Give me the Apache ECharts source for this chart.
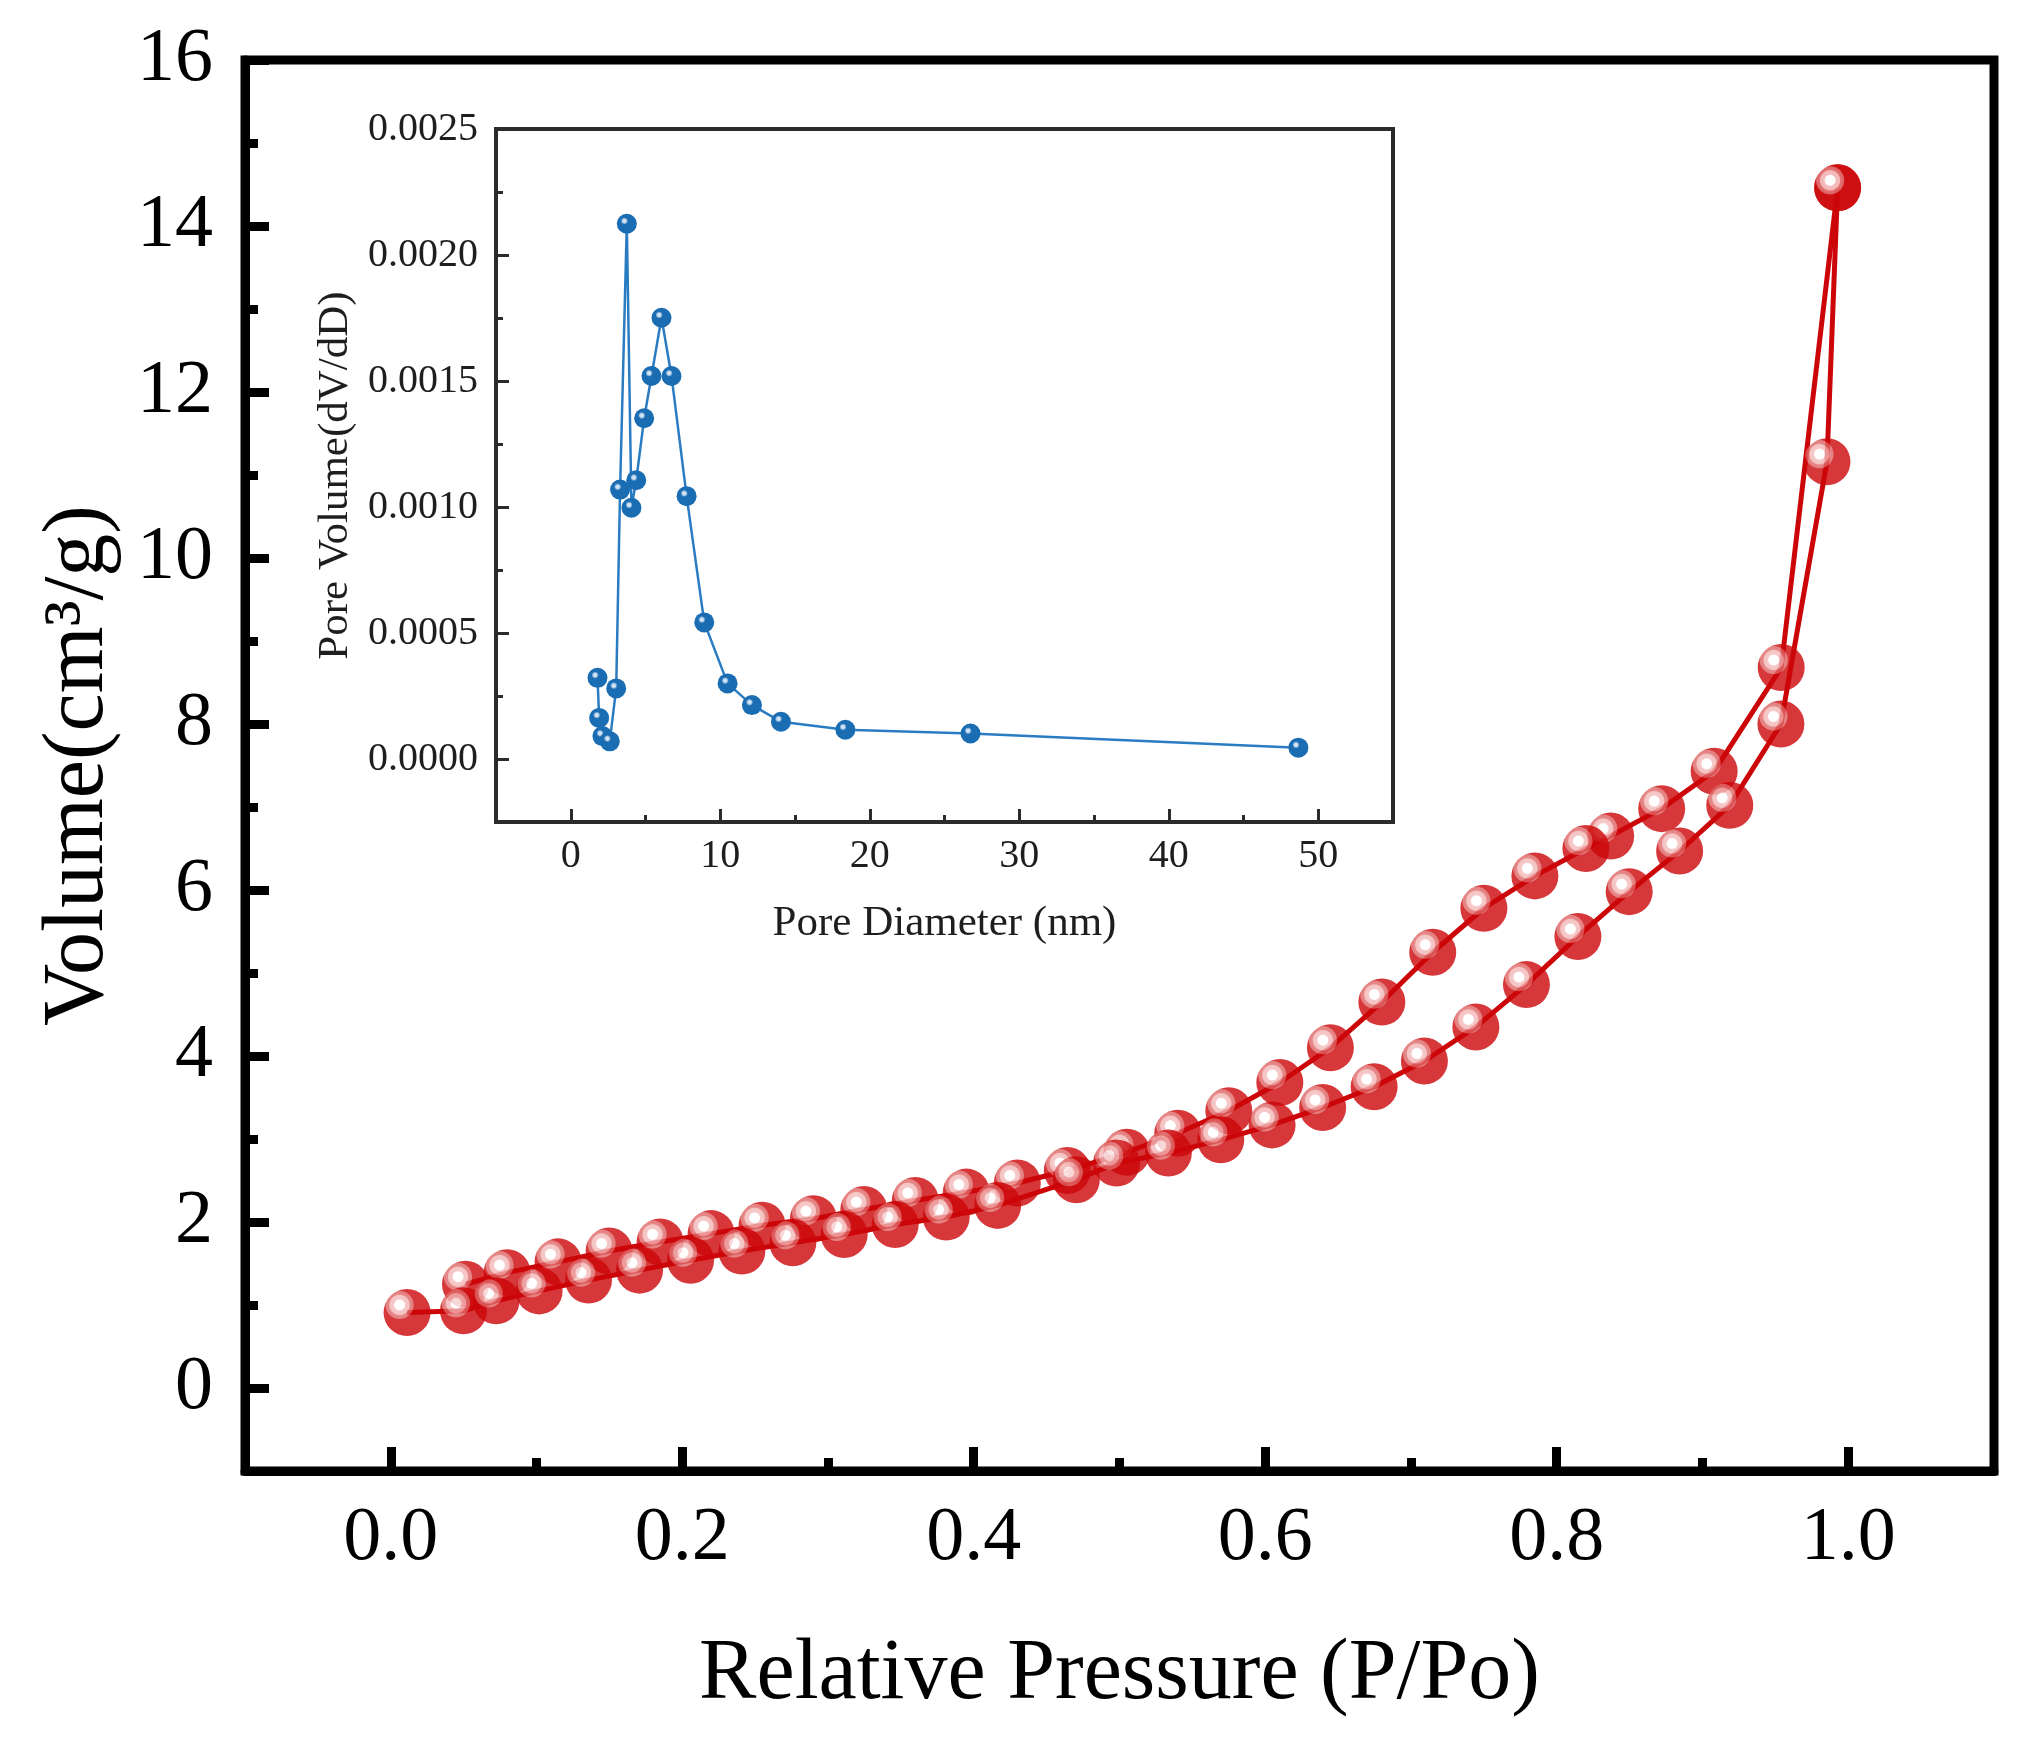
<!DOCTYPE html>
<html>
<head>
<meta charset="utf-8">
<title>BET isotherm</title>
<script src="https://cdn.jsdelivr.net/npm/echarts@6/dist/echarts.min.js"></script>
<style>
  html, body { margin: 0; padding: 0; background: #fff; }
  #main { width: 2021px; height: 1746px; }
</style>
</head>
<body>
<div id="main"></div>
<script>
// adsorption branch (low -> high pressure)
var pressureAds = [0.0112, 0.0499, 0.0723, 0.1018, 0.1357, 0.1707, 0.2057, 0.2409, 0.2759, 0.3111,
                   0.3461, 0.3811, 0.4164, 0.4704, 0.498, 0.5335, 0.5695, 0.6047, 0.6394, 0.6747,
                   0.7092, 0.7445, 0.7792, 0.8145, 0.8497, 0.8843, 0.9187, 0.9538, 0.9854, 0.9927];
var volumeAds = [0.91, 0.93, 1.05, 1.17, 1.30, 1.42, 1.54, 1.65, 1.75, 1.85,
                 1.97, 2.06, 2.20, 2.51, 2.71, 2.83, 2.99, 3.17, 3.38, 3.63,
                 3.94, 4.35, 4.86, 5.44, 5.98, 6.47, 7.02, 8.00, 11.16, 14.46];

// desorption branch (high -> low pressure)
var pressureDes = [0.9927, 0.954, 0.908, 0.872, 0.837, 0.820, 0.785, 0.750, 0.7149, 0.680,
                   0.6447, 0.610, 0.575, 0.540, 0.505, 0.4642, 0.4299, 0.3949, 0.3599, 0.3246,
                   0.290, 0.2548, 0.2198, 0.1848, 0.1498, 0.1148, 0.0798, 0.0513];
var volumeDes = [14.46, 8.68, 7.43, 6.98, 6.65, 6.50, 6.17, 5.78, 5.25, 4.65,
                 4.10, 3.68, 3.34, 3.07, 2.84, 2.62, 2.47, 2.36, 2.26, 2.15,
                 2.04, 1.96, 1.86, 1.76, 1.65, 1.52, 1.39, 1.25];

// inset: pore size distribution
var poreDiameter = [1.79, 1.90, 2.12, 2.61, 3.04, 3.30, 3.75, 4.06, 4.38, 4.91, 5.40,
                    6.07, 6.74, 7.75, 8.93, 10.49, 12.12, 14.06, 18.37, 26.74, 48.67];
var poreVolume = [0.000322, 0.000163, 0.000091, 0.000070, 0.000280, 0.001069, 0.002124,
                  0.000997, 0.001106, 0.001352, 0.001520, 0.001751, 0.001520, 0.001043,
                  0.000542, 0.000300, 0.000214, 0.000148, 0.000116, 0.000101, 0.000045];

// tick positions
var xMajor = [0, 0.2, 0.4, 0.6, 0.8, 1.0];
var xMinor = [0.1, 0.3, 0.5, 0.7, 0.9];
var yMajor = [0, 2, 4, 6, 8, 10, 12, 14, 16];
var yMinor = [1, 3, 5, 7, 9, 11, 13, 15];
var inXMajor = [0, 10, 20, 30, 40, 50];
var inXMinor = [5, 15, 25, 35, 45];
var inYMajor = [0, 0.0005, 0.001, 0.0015, 0.002, 0.0025];
var inYMinor = [0.00025, 0.00075, 0.00125, 0.00175, 0.00225];

(function () {
    var myChart = echarts.init(document.getElementById('main'), null, {renderer: 'canvas'});
    var font = "'Liberation Serif', 'Times New Roman', serif";
    var red = '#cc0508';
    var blue = '#1b6db3';

    function zip(xs, ys) {
        var out = [];
        for (var i = 0; i < xs.length; i++) out.push([xs[i], ys[i]]);
        return out;
    }

    // shiny ball: white spot, pink rings, red body
    var redBall = {
        type: 'radial', x: 0.34, y: 0.34, r: 0.5,
        colorStops: [
            {offset: 0, color: '#ffffff'},
            {offset: 0.21, color: '#ffffff'},
            {offset: 0.25, color: '#f4bcbc'},
            {offset: 0.41, color: '#f2b4b4'},
            {offset: 0.45, color: '#e26c6c'},
            {offset: 0.58, color: '#dc5e5e'},
            {offset: 0.62, color: red},
            {offset: 1, color: red}
        ]
    };
    var blueBall = {
        type: 'radial', x: 0.38, y: 0.36, r: 0.5,
        colorStops: [
            {offset: 0, color: '#e8f1fa'},
            {offset: 0.2, color: '#b9d3ec'},
            {offset: 0.36, color: blue},
            {offset: 1, color: blue}
        ]
    };

    function axisPair(grid, dir, min, max, major, minor, fmt, name, gap, st) {
        var pos = dir === 'x' ? 'bottom' : 'left';
        return [{
            type: 'value', gridIndex: grid, min: min, max: max, position: pos,
            name: name, nameLocation: 'middle', nameGap: gap,
            nameTextStyle: {fontFamily: font, fontSize: st.nameSize, color: st.textColor},
            axisLine: {show: true, onZero: false, lineStyle: {color: st.lineColor, width: st.lineWidth}},
            axisTick: {show: true, inside: true, length: st.major, customValues: major,
                       lineStyle: {color: st.lineColor, width: st.tickWidth}},
            axisLabel: {show: true, customValues: major, formatter: fmt,
                        margin: dir === 'x' ? st.marginX : st.marginY,
                        fontFamily: font, fontSize: st.labelSize, color: st.textColor},
            splitLine: {show: false}
        }, {
            type: 'value', gridIndex: grid, min: min, max: max, position: pos,
            axisLine: {show: false, onZero: false},
            axisTick: {show: true, inside: true, length: st.minor, customValues: minor,
                       lineStyle: {color: st.lineColor, width: st.tickWidth}},
            axisLabel: {show: false},
            splitLine: {show: false}
        }];
    }

    var mainStyle = {nameSize: 86, labelSize: 76, textColor: '#000', lineColor: '#000',
                     lineWidth: 9, tickWidth: 9, major: 24, minor: 13, marginX: 30, marginY: 32};
    var insetStyle = {nameSize: 43, labelSize: 40, textColor: '#1e1e1e', lineColor: '#2b2b2b',
                      lineWidth: 4, tickWidth: 3, major: 13, minor: 7, marginX: 14, marginY: 18};

    var xAxes = axisPair(0, 'x', -0.1, 1.1, xMajor, xMinor,
        function (v) { return v.toFixed(1); }, 'Relative Pressure (P/Po)', 161, mainStyle)
        .concat(axisPair(1, 'x', -5, 55, inXMajor, inXMinor,
        function (v) { return String(v); }, 'Pore Diameter (nm)', 80, insetStyle));
    var yAxes = axisPair(0, 'y', -1, 16, yMajor, yMinor,
        function (v) { return String(v); }, 'Volume(cm\u00b3/g)', 123, mainStyle)
        .concat(axisPair(1, 'y', -0.00025, 0.0025, inYMajor, inYMinor,
        function (v) { return v.toFixed(4); }, 'Pore Volume(dV/dD)', 139, insetStyle));

    var option = {
        animation: false,
        backgroundColor: '#fff',
        grid: [
            {left: 245, right: 27, top: 60, bottom: 275, show: true,
             borderColor: '#000', borderWidth: 9, backgroundColor: 'transparent', outerBoundsMode: 'none'},
            {left: 496, top: 129, width: 897, height: 693, show: true,
             borderColor: '#2b2b2b', borderWidth: 4, backgroundColor: '#fff', outerBoundsMode: 'none'}
        ],
        xAxis: xAxes,
        yAxis: yAxes,
        series: [
            {type: 'line', xAxisIndex: 0, yAxisIndex: 0, data: zip(pressureAds, volumeAds),
             showSymbol: false, lineStyle: {color: red, width: 5}, z: 2},
            {type: 'line', xAxisIndex: 0, yAxisIndex: 0, data: zip(pressureDes, volumeDes),
             showSymbol: false, lineStyle: {color: red, width: 5}, z: 2},
            {type: 'scatter', xAxisIndex: 0, yAxisIndex: 0, data: zip(pressureDes, volumeDes),
             symbol: 'circle', symbolSize: 47, itemStyle: {color: redBall}, z: 3},
            {type: 'scatter', xAxisIndex: 0, yAxisIndex: 0, data: zip(pressureAds, volumeAds),
             symbol: 'circle', symbolSize: 47, itemStyle: {color: redBall}, z: 3},
            {type: 'line', xAxisIndex: 2, yAxisIndex: 2, data: zip(poreDiameter, poreVolume),
             symbol: 'circle', symbolSize: 20, showSymbol: true,
             lineStyle: {color: '#2a7cc2', width: 2.5}, itemStyle: {color: blueBall}, z: 4}
        ]
    };

    myChart.setOption(option);
}());
</script>
</body>
</html>
